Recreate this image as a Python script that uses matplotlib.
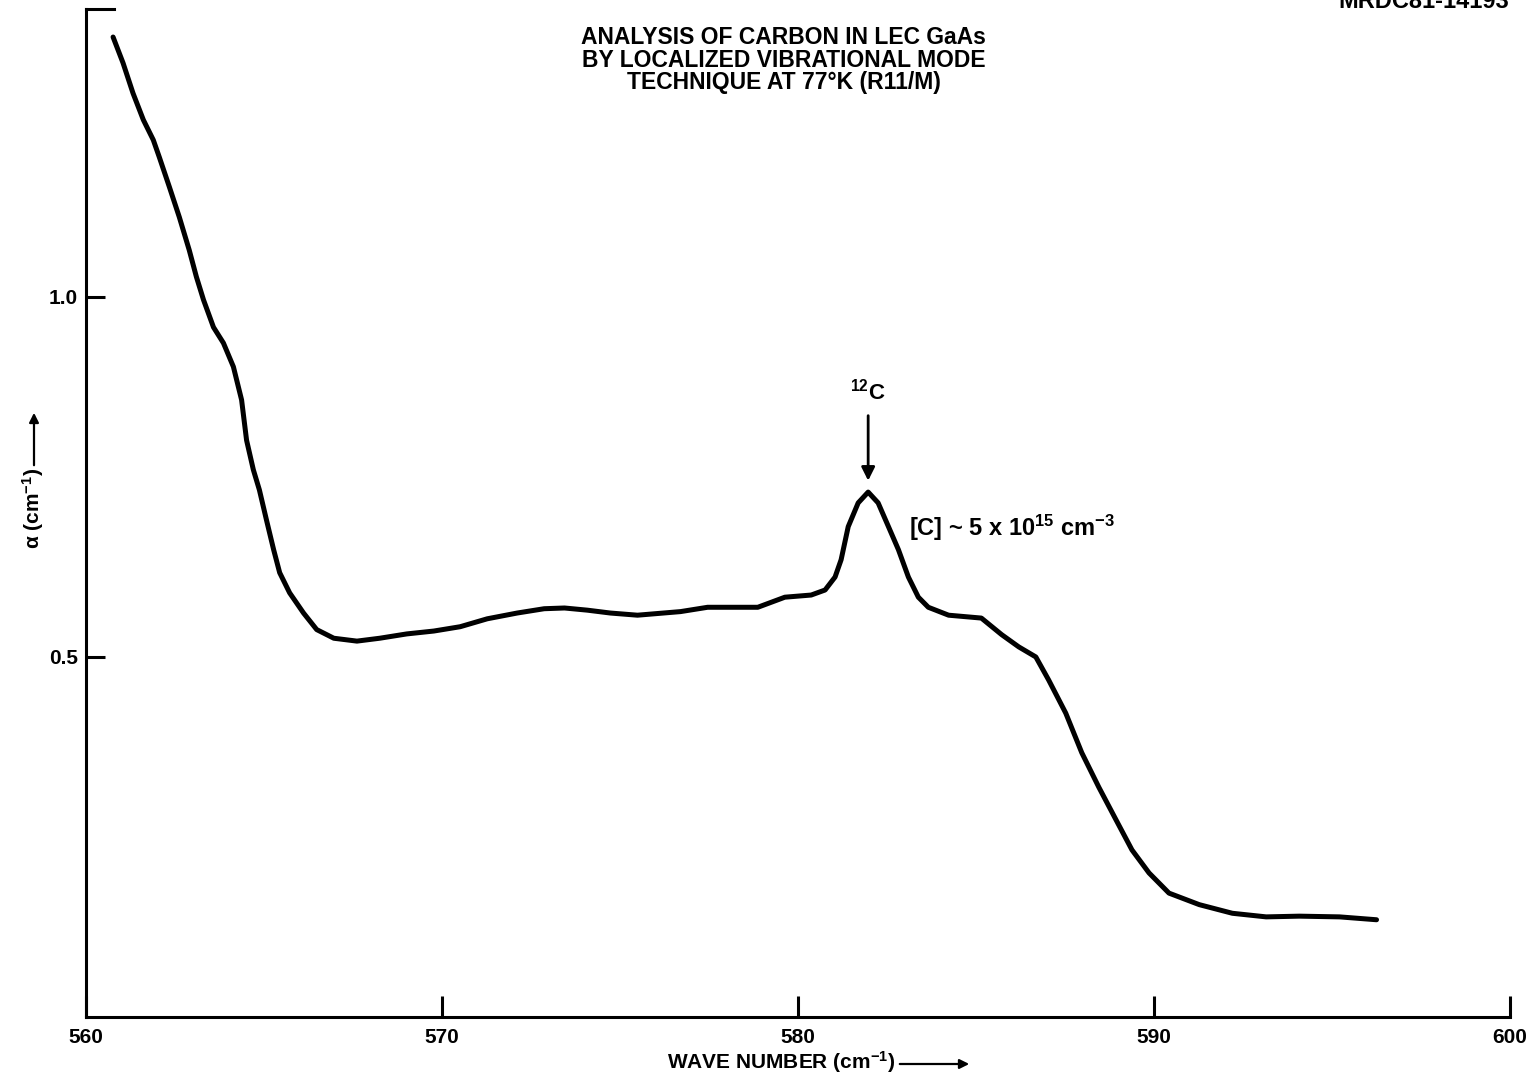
import matplotlib
matplotlib.use('Agg')
import matplotlib.pyplot as plt

# Absorption spectrum
wave_number = [560.76, 561.04, 561.32, 561.61, 561.89, 562.06, 562.34, 562.62, 562.90, 563.10,
               563.30, 563.58, 563.86, 564.14, 564.37, 564.51, 564.70, 564.87, 565.07, 565.27,
               565.44, 565.72, 566.11, 566.48, 566.96, 567.61, 568.25, 569.01, 569.77, 570.51,
               571.27, 572.11, 572.87, 573.44, 574.08, 574.73, 575.49, 576.70, 577.46, 578.87,
               579.63, 580.37, 580.76, 581.04, 581.21, 581.41, 581.69, 581.97, 582.25, 582.54,
               582.82, 583.10, 583.38, 583.66, 584.23, 585.15, 585.72, 586.20, 586.68, 587.04,
               587.52, 587.97, 588.45, 588.93, 589.38, 589.86, 590.42, 591.27, 592.20, 593.15,
               594.08, 595.21, 596.25]
alpha = [1.361, 1.325, 1.283, 1.246, 1.218, 1.194, 1.153, 1.111, 1.065, 1.028,
         0.996, 0.958, 0.936, 0.903, 0.857, 0.801, 0.760, 0.732, 0.690, 0.649,
         0.617, 0.589, 0.561, 0.538, 0.526, 0.522, 0.526, 0.532, 0.536, 0.542,
         0.553, 0.561, 0.567, 0.568, 0.565, 0.561, 0.558, 0.563, 0.569, 0.569,
         0.583, 0.586, 0.593, 0.611, 0.635, 0.681, 0.714, 0.729, 0.714, 0.681,
         0.649, 0.611, 0.583, 0.569, 0.558, 0.554, 0.531, 0.514, 0.500, 0.468,
         0.422, 0.367, 0.319, 0.274, 0.232, 0.200, 0.172, 0.156, 0.144, 0.139,
         0.140, 0.139, 0.135]

x_ticks = [560, 570, 580, 590, 600]
x_tick_labels = ['560', '570', '580', '590', '600']
y_ticks = [0.5, 1.0]
y_tick_labels = ['0.5', '1.0']

peak_x = 581.97
peak_y = 0.729

plt.rcParams['font.family'] = ['Liberation Sans', 'DejaVu Sans']
plt.rcParams['font.weight'] = 'bold'
plt.rcParams['mathtext.fontset'] = 'custom'
plt.rcParams['mathtext.rm'] = 'Liberation Sans:bold'
plt.rcParams['mathtext.it'] = 'Liberation Sans:bold'
plt.rcParams['mathtext.bf'] = 'Liberation Sans:bold'

fig = plt.figure(figsize=(15.36, 10.79), dpi=100)
ax = fig.add_axes([0.056, 0.0575, 0.9271, 0.9342])

ax.plot(wave_number, alpha, color='black', linewidth=3.6,
        solid_capstyle='round', solid_joinstyle='round')

ax.set_xlim(560, 600)
ax.set_ylim(0, 1.4)

# Spines: left + bottom, plus the short cap at the top-left corner
for side in ['left', 'bottom', 'top']:
    ax.spines[side].set_linewidth(2.2)
ax.spines['right'].set_visible(False)
ax.spines['top'].set_bounds(560, 560.8)

ax.set_xticks(x_ticks)
ax.set_xticklabels(x_tick_labels)
ax.set_yticks(y_ticks)
ax.set_yticklabels(y_tick_labels)
ax.tick_params(axis='x', direction='in', length=15, width=2.2, labelsize=15, pad=8)
ax.tick_params(axis='y', direction='in', length=14, width=2.2, labelsize=15, pad=6)
for lbl in ax.get_xticklabels() + ax.get_yticklabels():
    lbl.set_fontweight('bold')

# Axis labels with their trailing arrows
fig.text(895 / 1536, 1 - 1062 / 1079, r'WAVE NUMBER (cm$^{-1}$)', ha='right', va='center',
         fontsize=15, fontweight='bold')
fig.add_artist(matplotlib.patches.FancyArrowPatch(
    (897 / 1536, 1 - 1064 / 1079), (972 / 1536, 1 - 1064 / 1079), transform=fig.transFigure,
    arrowstyle='-|>', mutation_scale=14, color='black', lw=1.6))

fig.text(33 / 1536, 1 - 549 / 1079, r'$\alpha$ (cm$^{-1}$)', ha='center', va='bottom',
         rotation=90, fontsize=15, fontweight='bold')
fig.add_artist(matplotlib.patches.FancyArrowPatch(
    (34 / 1536, 1 - 468 / 1079), (34 / 1536, 1 - 410 / 1079), transform=fig.transFigure,
    arrowstyle='-|>', mutation_scale=14, color='black', lw=1.6))

# Title block
ax.text(0.49, 0.983, 'ANALYSIS OF CARBON IN LEC GaAs\nBY LOCALIZED VIBRATIONAL MODE\nTECHNIQUE AT 77°K (R11/M)',
        transform=ax.transAxes, ha='center', va='top', fontsize=16.5, fontweight='bold',
        linespacing=0.98)
fig.text(0.927, 0.999, 'MRDC81-14193', ha='center', va='center', fontsize=17, fontweight='bold')

# Peak annotation
ax.annotate('', xy=(peak_x, peak_y + 0.012), xytext=(peak_x, peak_y + 0.11),
            arrowprops=dict(arrowstyle='-|>', color='black', lw=2, mutation_scale=20))
ax.text(peak_x, peak_y + 0.122, r'$^{12}$C', ha='center', va='bottom', fontsize=16, fontweight='bold')
ax.text(peak_x + 1.15, peak_y - 0.05, r'[C] ~ 5 x 10$^{15}$ cm$^{-3}$', ha='left', va='center',
        fontsize=17, fontweight='bold')

fig.savefig('out.png', dpi=100, facecolor='white')
plt.close(fig)
